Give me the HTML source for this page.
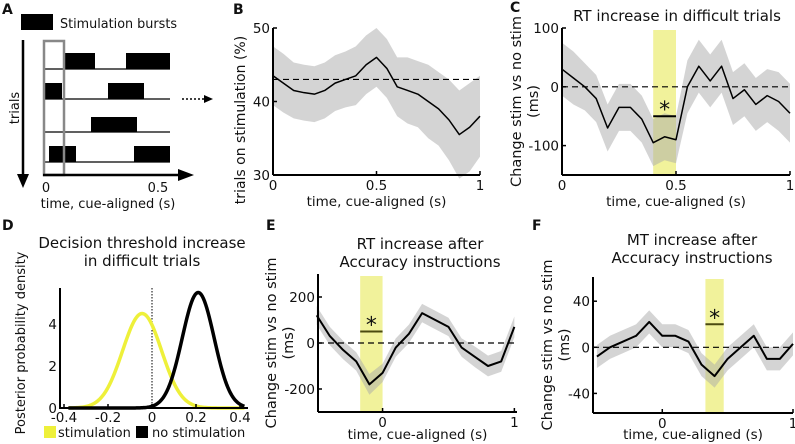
<!DOCTYPE html>
<html><head><meta charset="utf-8"><style>
body{margin:0;background:#fff;}
svg{display:block;font-family:"DejaVu Sans","Liberation Sans",sans-serif;}
text{fill:#111;}
</style></head><body>
<svg id="fig" width="795" height="444" viewBox="0 0 795 444" xmlns="http://www.w3.org/2000/svg">
<g>
<text x="2" y="14" font-size="14" font-weight="bold">A</text>
<rect x="21" y="14" width="32" height="16" fill="#000"/>
<text x="60" y="28" font-size="13" textLength="117" lengthAdjust="spacingAndGlyphs">Stimulation bursts</text>
<line x1="23" y1="40" x2="23" y2="178" stroke="#000" stroke-width="2.5"/>
<polygon points="17,174 29,174 23,188" fill="#000"/>
<text transform="translate(19,108) rotate(-90)" font-size="13" text-anchor="middle">trials</text>
<g stroke="#000" stroke-width="1.2">
<line x1="43" y1="69" x2="170" y2="69"/><line x1="43" y1="99" x2="170" y2="99"/>
<line x1="43" y1="132" x2="170" y2="132"/><line x1="43" y1="162" x2="170" y2="162"/></g>
<g fill="#000">
<rect x="65" y="53" width="30" height="16"/><rect x="126" y="53" width="44" height="16"/>
<rect x="44" y="83" width="18" height="16"/><rect x="108" y="83" width="36" height="16"/>
<rect x="91" y="117" width="46" height="15"/>
<rect x="49" y="146" width="27" height="16"/><rect x="134" y="146" width="36" height="16"/></g>
<rect x="44" y="41" width="20" height="134" fill="none" stroke="#888" stroke-width="2.5"/>
<line x1="43" y1="175" x2="182" y2="175" stroke="#000" stroke-width="2.5"/>
<polygon points="178,169 194,175 178,181" fill="#000"/>
<text x="46" y="192" font-size="13" text-anchor="middle">0</text>
<text x="158" y="192" font-size="13" text-anchor="middle">0.5</text>
<text x="108" y="208" font-size="13" text-anchor="middle">time, cue-aligned (s)</text>
<line x1="182" y1="99" x2="206" y2="99" stroke="#000" stroke-width="1.5" stroke-dasharray="2,2"/>
<polygon points="204,95 213,99 204,103" fill="#000"/>
</g>
<g id="panels"></g>
</svg>
<script>
// Panel B data
const bT=[0,0.05,0.1,0.15,0.2,0.25,0.3,0.35,0.4,0.45,0.5,0.55,0.6,0.65,0.7,0.75,0.8,0.85,0.9,0.95,1];
const bV=[43.5,42.5,41.5,41.2,41,41.5,42.5,43,43.5,45,46,44.5,42,41.5,41,40,39,37.5,35.5,36.5,38];
const bCI=[4,4,3.8,3.8,3.8,3.8,3.8,3.8,4,4,4,4,4,4.5,4.5,5,5,5.5,6,6,5.5];
const bYTicks=[30,40,50];
const bXTicks=[0,0.5,1];
// Panel C data
const cT=[0,0.05,0.1,0.15,0.2,0.25,0.3,0.35,0.4,0.45,0.5,0.55,0.6,0.65,0.7,0.75,0.8,0.85,0.9,0.95,1];
const cV=[30,15,0,-20,-70,-35,-35,-55,-95,-85,-90,0,35,10,35,-20,-5,-30,-15,-25,-45];
const cCI=[45,45,40,40,40,40,40,40,40,40,40,45,45,45,45,45,45,45,45,50,50];
const cYTicks=[-100,0,100];
const cXTicks=[0,0.5,1];
// Panel E data
const eT=[-0.5,-0.4,-0.3,-0.2,-0.1,0,0.1,0.2,0.3,0.4,0.5,0.6,0.7,0.8,0.9,1.0];
const eV=[120,30,-30,-80,-180,-130,-20,40,130,100,70,-20,-60,-100,-80,70];
const eCI=[40,40,40,40,45,40,40,40,40,40,40,40,45,45,45,45];
const eYTicks=[-200,0,200];
const eXTicks=[0,1];
// Panel F data
const fT=[-0.5,-0.4,-0.3,-0.2,-0.1,0,0.1,0.2,0.3,0.4,0.5,0.6,0.7,0.8,0.9,1.0];
const fV=[-8,0,5,10,22,10,10,5,-15,-25,-10,0,10,-10,-10,3];
const fCI=[10,10,10,10,10,10,10,10,10,10,10,10,10,10,10,10];
const fYTicks=[-40,0,40];
const fXTicks=[0,1];
// Panel D data
const dXTicks=[-0.4,-0.2,0,0.2,0.4];
const dYTicks=[0,2,4];
const dStimMean=[-0.045]; const dStimPeak=[4.5];
const dNoMean=[0.21]; const dNoPeak=[5.5];

const NS="http://www.w3.org/2000/svg";
const root=document.getElementById('panels');
function mk(tag,attrs,parent){const e=document.createElementNS(NS,tag);for(const k in attrs)e.setAttribute(k,attrs[k]);(parent||root).appendChild(e);return e;}
function txt(s,x,y,size,anchor,parent){const t=mk('text',{x:x,y:y,'font-size':size,'text-anchor':anchor||'middle'},parent);t.textContent=s;return t;}

function timePanel(cfg){
  const g=mk('g',{});
  
  
  const sx=t=>cfg.x0+(t-cfg.t0)/(cfg.t1-cfg.t0)*(cfg.x1-cfg.x0);
  const sy=v=>cfg.yb+(v-cfg.v0)/(cfg.v1-cfg.v0)*(cfg.yt-cfg.yb);
  if(cfg.band){const b=mk('rect',{x:sx(cfg.band[0]),y:cfg.yt+2,width:sx(cfg.band[1])-sx(cfg.band[0]),height:cfg.yb-cfg.yt-2,fill:'#eef08a',opacity:0.85},g);
    
    }
  let up='';
  cfg.T.forEach((t,i)=>{up+=(i?'L':'M')+sx(t)+','+sy(cfg.V[i]+cfg.CI[i]);});
  for(let i=cfg.T.length-1;i>=0;i--)up+='L'+sx(cfg.T[i])+','+sy(cfg.V[i]-cfg.CI[i]);
  const ci=mk('path',{d:up+'Z',fill:'#aaa',opacity:0.5},g);
  
  
  const dl=mk('line',{x1:cfg.x0,x2:cfg.x1,y1:sy(cfg.ref),y2:sy(cfg.ref),stroke:'#000','stroke-width':1.2,'stroke-dasharray':'6,4'},g);
  
  
  let p='';cfg.T.forEach((t,i)=>{p+=(i?'L':'M')+sx(t)+','+sy(cfg.V[i]);});
  const ln=mk('path',{d:p,fill:'none',stroke:'#000','stroke-width':cfg.lw||1.5,'stroke-linejoin':'round'},g);
  
  
  if(cfg.sig){const sb=mk('line',{x1:sx(cfg.band[0]),x2:sx(cfg.band[1]),y1:sy(cfg.sig),y2:sy(cfg.sig),stroke:cfg.sigc||'#000','stroke-width':2},g);
    
    
    const st=txt('*',(sx(cfg.band[0])+sx(cfg.band[1]))/2,sy(cfg.sig)+1,22,'middle',g);
    
    }
  mk('line',{x1:cfg.x0,x2:cfg.x0,y1:cfg.yt,y2:cfg.yb,stroke:'#000','stroke-width':2},g);
  mk('line',{x1:cfg.x0,x2:cfg.x1,y1:cfg.yb,y2:cfg.yb,stroke:'#000','stroke-width':2},g);
  cfg.yt2.forEach(v=>{mk('line',{x1:cfg.x0,x2:cfg.x0+4,y1:sy(v),y2:sy(v),stroke:'#000','stroke-width':1.5},g);
    const tl=txt(String(v),cfg.x0-3,sy(v)+5,13.5,'end',g);
    
    });
  cfg.xt.forEach(v=>{mk('line',{x1:sx(v),x2:sx(v),y1:cfg.yb,y2:cfg.yb-4,stroke:'#000','stroke-width':1.5},g);
    const tl=txt(String(v),sx(v),cfg.yb+15,13.5,'middle',g);
    
    });
  const xl=txt('time, cue-aligned (s)',(cfg.x0+cfg.x1)/2,cfg.yb+(cfg.xly||31),13.5,'middle',g);
  
  
  const yc=cfg.ylc||(cfg.yt+cfg.yb)/2;
  cfg.ylab.forEach((s,i)=>{const yl=txt(s,0,0,cfg.yls||14.5,'middle',g);
    yl.setAttribute('transform','translate('+(cfg.ylx+i*17)+','+yc+') rotate(-90)');
    
    });
  cfg.title.forEach((s,i)=>{const tt=txt(s,cfg.tx,cfg.ty+i*18,15,'middle',g);
    
    });
  const lb=txt(cfg.label,cfg.lx,cfg.ly,14,'start',g);
  lb.setAttribute('font-weight','bold');
  
  
}
timePanel({name:'panel-b',T:bT,V:bV,CI:bCI,x0:273,x1:480,t0:0,t1:1,yt:28,yb:175,v0:30,v1:50,ref:43,yt2:bYTicks,xt:bXTicks,ylab:['trials on stimulation (%)'],ylx:245,yls:14,ylc:120,title:[],tx:0,ty:0,label:'B',lx:233,ly:14});
timePanel({name:'panel-c',T:cT,V:cV,CI:cCI,x0:562,x1:790,t0:0,t1:1,yt:28,yb:175,v0:-150,v1:100,ref:0,yt2:cYTicks,xt:cXTicks,band:[0.4,0.5],sig:-50,ylab:['Change stim vs no stim','(ms)'],ylx:521,title:['RT increase in difficult trials'],tx:677,ty:21,label:'C',lx:510,ly:12});
timePanel({name:'panel-e',T:eT,V:eV,CI:eCI,x0:318,x1:517,t0:-0.49,t1:1.02,yt:274,yb:412,v0:-300,v1:300,ref:0,yt2:eYTicks,xt:eXTicks,band:[-0.17,0],sig:50,sigc:'#4a4a10',lw:2,xly:27,ylab:['Change stim vs no stim','(ms)'],ylx:276,title:['RT increase after','Accuracy instructions'],tx:420,ty:249,label:'E',lx:266,ly:230});
timePanel({name:'panel-f',T:fT,V:fV,CI:fCI,x0:593,x1:793,t0:-0.53,t1:1,yt:277,yb:413,v0:-57,v1:61,ref:0,yt2:fYTicks,xt:fXTicks,band:[0.33,0.47],sig:20,sigc:'#4a4a10',lw:2,xly:26,ylab:['Change stim vs no stim','(ms)'],ylx:552,title:['MT increase after','Accuracy instructions'],tx:692,ty:245,label:'F',lx:532,ly:230});

(function(){
  const g=mk('g',{});
  
  
  const sx=v=>152+v*220, sy=v=>408-v*21;
  const lb=txt('D',2,230,14,'start',g);
  lb.setAttribute('font-weight','bold');
  
  
  ['Decision threshold increase','in difficult trials'].forEach((s,i)=>{const t=txt(s,142,248+i*18,15,'middle',g);
    
    });
  const dv=mk('line',{x1:sx(0),x2:sx(0),y1:288,y2:408,stroke:'#000','stroke-width':1,'stroke-dasharray':'1.5,1.5'},g);
  
  
  function curve(m,pk,col,name){const sd=1/(pk*Math.sqrt(2*Math.PI));let p='';
    for(let i=0;i<=150;i++){const x=-0.38+i*0.8/150;const y=pk*Math.exp(-0.5*((x-m)/sd)**2);p+=(i?'L':'M')+sx(x)+','+sy(y);}
    const c=mk('path',{d:p,fill:'none',stroke:col,'stroke-width':3.5},g);
    
    }
  curve(dStimMean[0],dStimPeak[0],'#eef03a','stimulation-curve');
  curve(dNoMean[0],dNoPeak[0],'#000','no-stimulation-curve');
  mk('line',{x1:60,x2:60,y1:288,y2:409,stroke:'#000','stroke-width':2},g);
  mk('line',{x1:60,x2:248,y1:408,y2:408,stroke:'#000','stroke-width':2},g);
  dYTicks.forEach(v=>{const t=txt(String(v),57,sy(v)+5,13.5,'end',g);
    
    });
  dXTicks.forEach(v=>{mk('line',{x1:sx(v),x2:sx(v),y1:408,y2:404,stroke:'#000','stroke-width':1.5},g);
    const t=txt(String(v),sx(v),422,13.5,'middle',g);
    
    });
  const yl=txt('Posterior probability density',0,0,13,'middle',g);
  yl.setAttribute('transform','translate(25,343) rotate(-90)');
  
  
  const s1=mk('rect',{x:44,y:426,width:12,height:12,fill:'#eef03a'},g);
  
  
  const l1=txt('stimulation',58,437,13,'start',g);
  
  
  const s2=mk('rect',{x:136,y:426,width:12,height:12,fill:'#000'},g);
  
  
  const l2=txt('no stimulation',152,437,13,'start',g);
  
  
})();
</script>
</body></html>
